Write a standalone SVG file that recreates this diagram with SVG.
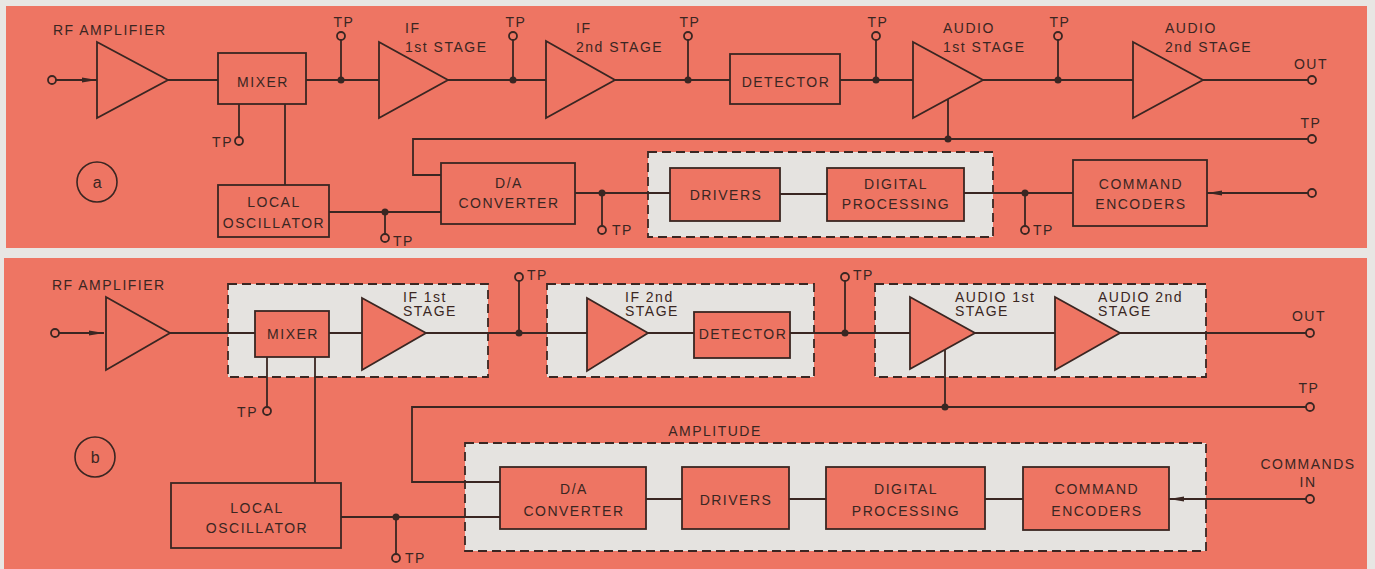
<svg xmlns="http://www.w3.org/2000/svg" width="1375" height="569" viewBox="0 0 1375 569">
<defs>
<style>
.ln{stroke:#3a2622;stroke-width:1.8;fill:none}
.blk{fill:#ee7563;stroke:#3a2622;stroke-width:1.8}
.grp{fill:#e5e3e0;stroke:#3a2622;stroke-width:1.8;stroke-dasharray:9 5}
.tp{fill:#ee7563;stroke:#3a2622;stroke-width:1.8}
.dot{fill:#3a2622}
text{font-family:"Liberation Sans",Arial,sans-serif;font-size:14px;fill:#3a2622;letter-spacing:1.5px}
.m{text-anchor:middle}
.e{text-anchor:end}
</style>
<marker id="arr" markerUnits="userSpaceOnUse" markerWidth="16" markerHeight="8" refX="15" refY="4" orient="auto">
<path d="M0,1.5 L15,4 L0,6.5 z" fill="#3a2622"/>
</marker>
</defs>
<rect x="0" y="0" width="1375" height="569" fill="#e8e6e3"/>
<rect x="6" y="6" width="1361" height="242" fill="#ee7563"/>
<rect x="4" y="258" width="1363" height="311" fill="#ee7563"/>

<!-- Panel a groups -->
<g id="groupA"><rect class="grp" x="648" y="152" width="345" height="85"/></g>

<g id="connectorsA">
<path class="ln" d="M56,80 H97" marker-end="url(#arr)"/>
<path class="ln" d="M168,80 H218"/>
<path class="ln" d="M306,80 H379"/>
<path class="ln" d="M448,80 H546"/>
<path class="ln" d="M615,80 H730"/>
<path class="ln" d="M840,80 H913"/>
<path class="ln" d="M983,80 H1133"/>
<path class="ln" d="M1203,80 H1308"/>
<path class="ln" d="M341,80 V40 M513,80 V40 M688,80 V40 M876,80 V40 M1058,80 V40"/>
<path class="ln" d="M239,104 V137 M285,104 V185"/>
<path class="ln" d="M329,212 H441 M385,212 V234"/>
<path class="ln" d="M948,99 V139 M1308,139 H413 V175 H441"/>
<path class="ln" d="M575,193 H670 M602,193 V226"/>
<path class="ln" d="M780,194 H827"/>
<path class="ln" d="M964,193 H1073 M1025,193 V226"/>
<path class="ln" d="M1308,193 H1207" marker-end="url(#arr)"/>
<circle class="dot" cx="341" cy="80" r="3.5"/>
<circle class="dot" cx="513" cy="80" r="3.5"/>
<circle class="dot" cx="688" cy="80" r="3.5"/>
<circle class="dot" cx="876" cy="80" r="3.5"/>
<circle class="dot" cx="1058" cy="80" r="3.5"/>
<circle class="dot" cx="385" cy="212" r="3.5"/>
<circle class="dot" cx="948" cy="139" r="3.5"/>
<circle class="dot" cx="602" cy="193" r="3.5"/>
<circle class="dot" cx="1025" cy="193" r="3.5"/>
<circle class="tp" cx="52" cy="80" r="4"/>
<circle class="tp" cx="341" cy="36" r="4"/>
<circle class="tp" cx="513" cy="36" r="4"/>
<circle class="tp" cx="688" cy="36" r="4"/>
<circle class="tp" cx="876" cy="36" r="4"/>
<circle class="tp" cx="1058" cy="36" r="4"/>
<circle class="tp" cx="1312" cy="80" r="4"/>
<circle class="tp" cx="1312" cy="139" r="4"/>
<circle class="tp" cx="1312" cy="193" r="4"/>
<circle class="tp" cx="239" cy="141" r="4"/>
<circle class="tp" cx="385" cy="238" r="4"/>
<circle class="tp" cx="602" cy="230" r="4"/>
<circle class="tp" cx="1025" cy="230" r="4"/>
</g>

<g id="labelsA">
<text class="m" x="344" y="27">TP</text>
<text class="m" x="516" y="27">TP</text>
<text class="m" x="690" y="27">TP</text>
<text class="m" x="878" y="27">TP</text>
<text class="m" x="1060" y="27">TP</text>
<text class="e" x="233" y="147">TP</text>
<text x="393" y="246">TP</text>
<text x="612" y="235">TP</text>
<text x="1033" y="235">TP</text>
<text class="m" x="1311" y="128">TP</text>
<text class="m" x="1311" y="69">OUT</text>
</g>

<g id="labelA"><circle cx="97" cy="182" r="20" fill="none" stroke="#3a2622" stroke-width="1.6"/><text class="m" x="98" y="188" style="font-size:16px">a</text></g>

<g id="rfAmpA"><polygon class="blk" points="97,42 168,80 97,118"/><text x="53" y="35">RF AMPLIFIER</text></g>
<g id="mixerA"><rect class="blk" x="218" y="53" width="88" height="51"/><text class="m" x="263" y="87">MIXER</text></g>
<g id="if1A"><polygon class="blk" points="379,42 448,80 379,118"/><text x="405" y="33">IF</text><text x="405" y="52">1st STAGE</text></g>
<g id="if2A"><polygon class="blk" points="546,41 615,80 546,118"/><text x="576" y="33">IF</text><text x="576" y="52">2nd STAGE</text></g>
<g id="detectorA"><rect class="blk" x="730" y="54" width="110" height="50"/><text class="m" x="786" y="87">DETECTOR</text></g>
<g id="audio1A"><polygon class="blk" points="913,42 983,80 913,118"/><text x="943" y="33">AUDIO</text><text x="943" y="52">1st STAGE</text></g>
<g id="audio2A"><polygon class="blk" points="1133,42 1203,80 1133,118"/><text x="1165" y="33">AUDIO</text><text x="1165" y="52">2nd STAGE</text></g>
<g id="localOscA"><rect class="blk" x="218" y="185" width="111" height="52"/><text class="m" x="274" y="207">LOCAL</text><text class="m" x="274" y="228">OSCILLATOR</text></g>
<g id="daA"><rect class="blk" x="441" y="163" width="134" height="61"/><text class="m" x="509" y="188">D/A</text><text class="m" x="509" y="208">CONVERTER</text></g>
<g id="driversA"><rect class="blk" x="670" y="168" width="110" height="53"/><text class="m" x="726" y="200">DRIVERS</text></g>
<g id="digitalA"><rect class="blk" x="827" y="168" width="137" height="53"/><text class="m" x="896" y="189">DIGITAL</text><text class="m" x="896" y="209">PROCESSING</text></g>
<g id="cmdEncA"><rect class="blk" x="1073" y="160" width="134" height="66"/><text class="m" x="1141" y="189">COMMAND</text><text class="m" x="1141" y="209">ENCODERS</text></g>

<!-- Panel b -->
<g id="groupsB">
<rect class="grp" x="228" y="284" width="260" height="93"/>
<rect class="grp" x="547" y="284" width="267" height="93"/>
<rect class="grp" x="875" y="284" width="331" height="93"/>
<rect class="grp" x="465" y="443" width="741" height="108"/>
<text class="m" x="715" y="436">AMPLITUDE</text>
</g>

<g id="connectorsB">
<path class="ln" d="M59,333 H104" marker-end="url(#arr)"/>
<path class="ln" d="M170,333 H255"/>
<path class="ln" d="M329,333 H362"/>
<path class="ln" d="M426,333 H587"/>
<path class="ln" d="M648,333 H694"/>
<path class="ln" d="M790,333 H910"/>
<path class="ln" d="M975,333 H1055"/>
<path class="ln" d="M1120,333 H1306"/>
<path class="ln" d="M519,333 V281 M845,333 V281"/>
<path class="ln" d="M267,357 V407 M315,357 V483"/>
<path class="ln" d="M945,350 V407 M1306,407 H412 V482 H500"/>
<path class="ln" d="M341,517 H500 M396,517 V554"/>
<path class="ln" d="M646,499 H682 M789,499 H826 M985,499 H1023"/>
<path class="ln" d="M1306,499 H1169" marker-end="url(#arr)"/>
<circle class="dot" cx="519" cy="333" r="3.5"/>
<circle class="dot" cx="845" cy="333" r="3.5"/>
<circle class="dot" cx="945" cy="407" r="3.5"/>
<circle class="dot" cx="396" cy="517" r="3.5"/>
<circle class="tp" cx="55" cy="333" r="4"/>
<circle class="tp" cx="519" cy="277" r="4"/>
<circle class="tp" cx="845" cy="277" r="4"/>
<circle class="tp" cx="267" cy="411" r="4"/>
<circle class="tp" cx="396" cy="558" r="4"/>
<circle class="tp" cx="1310" cy="333" r="4"/>
<circle class="tp" cx="1310" cy="407" r="4"/>
<circle class="tp" cx="1310" cy="499" r="4"/>
</g>

<g id="labelsB">
<text x="527" y="280">TP</text>
<text x="853" y="280">TP</text>
<text class="e" x="258" y="417">TP</text>
<text x="405" y="563">TP</text>
<text class="m" x="1309" y="393">TP</text>
<text class="m" x="1309" y="321">OUT</text>
<text class="m" x="1308" y="469">COMMANDS</text>
<text class="m" x="1308" y="487">IN</text>
</g>

<g id="labelB"><circle cx="95" cy="457" r="20" fill="none" stroke="#3a2622" stroke-width="1.6"/><text class="m" x="96" y="463" style="font-size:16px">b</text></g>

<g id="rfAmpB"><polygon class="blk" points="106,297 170,333 106,370"/><text x="52" y="290">RF AMPLIFIER</text></g>
<g id="mixerB"><rect class="blk" x="255" y="311" width="74" height="46"/><text class="m" x="293" y="339">MIXER</text></g>
<g id="if1B"><polygon class="blk" points="362,298 426,333 362,370"/><text x="403" y="302">IF 1st</text><text x="403" y="316">STAGE</text></g>
<g id="if2B"><polygon class="blk" points="587,298 648,333 587,371"/><text x="625" y="302">IF 2nd</text><text x="625" y="316">STAGE</text></g>
<g id="detectorB"><rect class="blk" x="694" y="312" width="96" height="46"/><text class="m" x="743" y="339">DETECTOR</text></g>
<g id="audio1B"><polygon class="blk" points="910,297 975,333 910,369"/><text x="955" y="302">AUDIO 1st</text><text x="955" y="316">STAGE</text></g>
<g id="audio2B"><polygon class="blk" points="1055,297 1120,333 1055,370"/><text x="1098" y="302">AUDIO 2nd</text><text x="1098" y="316">STAGE</text></g>
<g id="localOscB"><rect class="blk" x="171" y="483" width="170" height="65"/><text class="m" x="257" y="513">LOCAL</text><text class="m" x="257" y="533">OSCILLATOR</text></g>
<g id="daB"><rect class="blk" x="500" y="467" width="146" height="62"/><text class="m" x="574" y="494">D/A</text><text class="m" x="574" y="516">CONVERTER</text></g>
<g id="driversB"><rect class="blk" x="682" y="467" width="107" height="62"/><text class="m" x="736" y="505">DRIVERS</text></g>
<g id="digitalB"><rect class="blk" x="826" y="467" width="159" height="62"/><text class="m" x="906" y="494">DIGITAL</text><text class="m" x="906" y="516">PROCESSING</text></g>
<g id="cmdEncB"><rect class="blk" x="1023" y="467" width="146" height="63"/><text class="m" x="1097" y="494">COMMAND</text><text class="m" x="1097" y="516">ENCODERS</text></g>
</svg>
